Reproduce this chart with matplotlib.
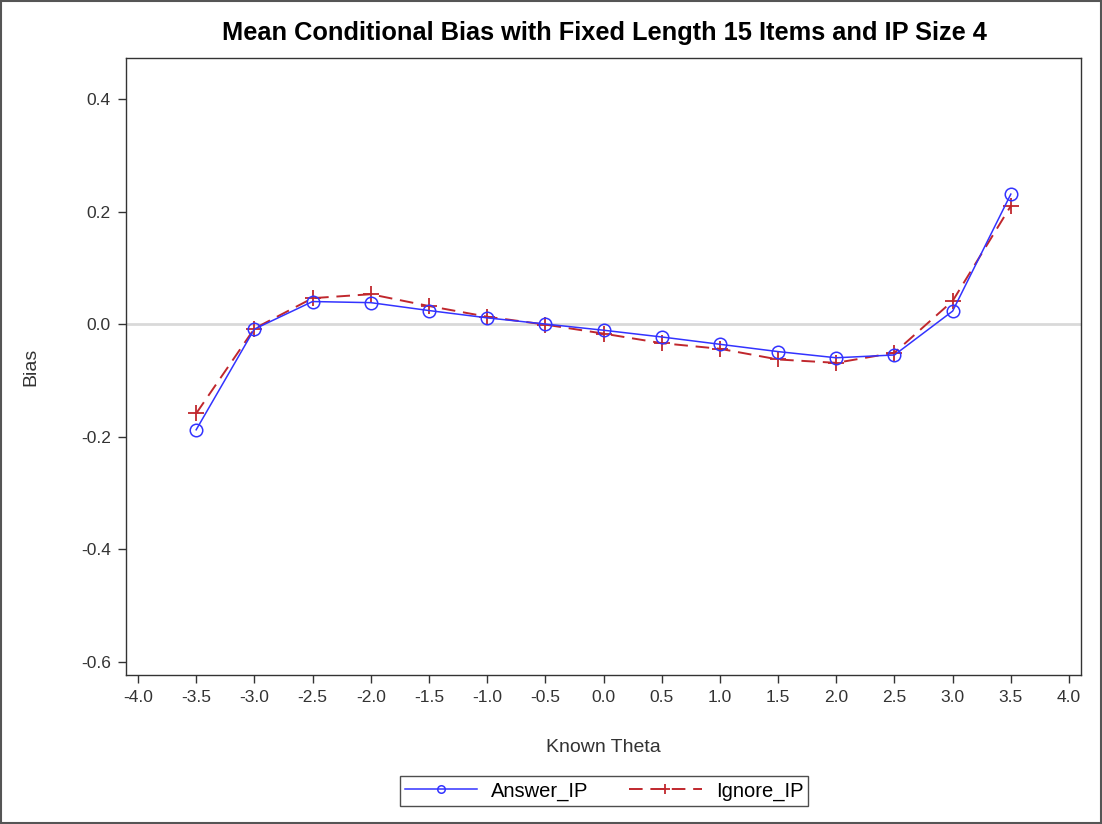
import numpy as np
import matplotlib
matplotlib.use("Agg")
import matplotlib.pyplot as plt

plt.rcParams['font.family'] = ['Liberation Sans', 'DejaVu Sans']

# known theta grid and mean conditional bias for each IP handling rule
theta = [-3.5, -3.0, -2.5, -2.0, -1.5, -1.0, -0.5, 0.0, 0.5, 1.0, 1.5, 2.0, 2.5, 3.0, 3.5]
answer_ip = [-0.188, -0.009, 0.040, 0.038, 0.024, 0.011, 0.000, -0.011, -0.023,
             -0.036, -0.049, -0.060, -0.055, 0.023, 0.231]
ignore_ip = [-0.159, -0.008, 0.046, 0.053, 0.032, 0.013, -0.001, -0.017, -0.034,
             -0.044, -0.063, -0.069, -0.051, 0.041, 0.210]

xticks = np.arange(-4.0, 4.01, 0.5)
yticks = np.arange(-0.6, 0.41, 0.2)

fig = plt.figure(figsize=(11.02, 8.24), dpi=100)
ax = fig.add_axes([126/1102, 1 - 675/824, (1081-126)/1102, (675-58)/824])

ax.axhline(0, color='#d9d9d9', lw=2, zorder=1)
ax.plot(theta, answer_ip, color='#3333ff', lw=1.1, marker='o', ms=9,
        mfc='none', mec='#3333ff', mew=1.1, label='Answer_IP', zorder=3)
ax.plot(theta, ignore_ip, color='#c0272d', lw=1.4, ls=(0, (7, 4)), marker='+',
        ms=11, mew=1.3, label='Ignore_IP', zorder=2)

ax.set_xlim(-4.103, 4.103)
ax.set_ylim(-0.624, 0.473)
ax.set_xticks(xticks)
ax.set_xticklabels([f'{v:.1f}' for v in xticks])
ax.set_yticks(yticks)
ax.set_yticklabels([f'{v:.1f}' if abs(v) > 1e-9 else '0.0' for v in yticks])
ax.tick_params(labelsize=12.5, length=6, width=1, color='#333333', labelcolor='#333333', pad=5)
for s in ax.spines.values():
    s.set_color('#333333')
    s.set_linewidth(1)

ax.set_xlabel('Known Theta', fontsize=14, color='#333333', labelpad=24)
ax.set_ylabel('Bias', fontsize=14, color='#333333', labelpad=30)
fig.text(604/1102, 1 - 33/824, 'Mean Conditional Bias with Fixed Length 15 Items and IP Size 4',
         ha='center', va='center', fontsize=18.3, fontweight='bold')

leg = fig.legend(loc='center', bbox_to_anchor=(604/1102, 1 - 791/824), ncol=2,
                 frameon=True, fancybox=False, edgecolor='#222222', fontsize=14.5,
                 handlelength=3.6, columnspacing=2.0, borderpad=0.25, handletextpad=0.7,
                 markerscale=0.6)
leg.get_frame().set_linewidth(1)

# outer border around the whole graphic
fig.patches.append(plt.Rectangle((0.001, 0.001), 0.998, 0.998, transform=fig.transFigure,
                                 fill=False, edgecolor='#555555', lw=1.5))

fig.savefig('out.png', dpi=100)
